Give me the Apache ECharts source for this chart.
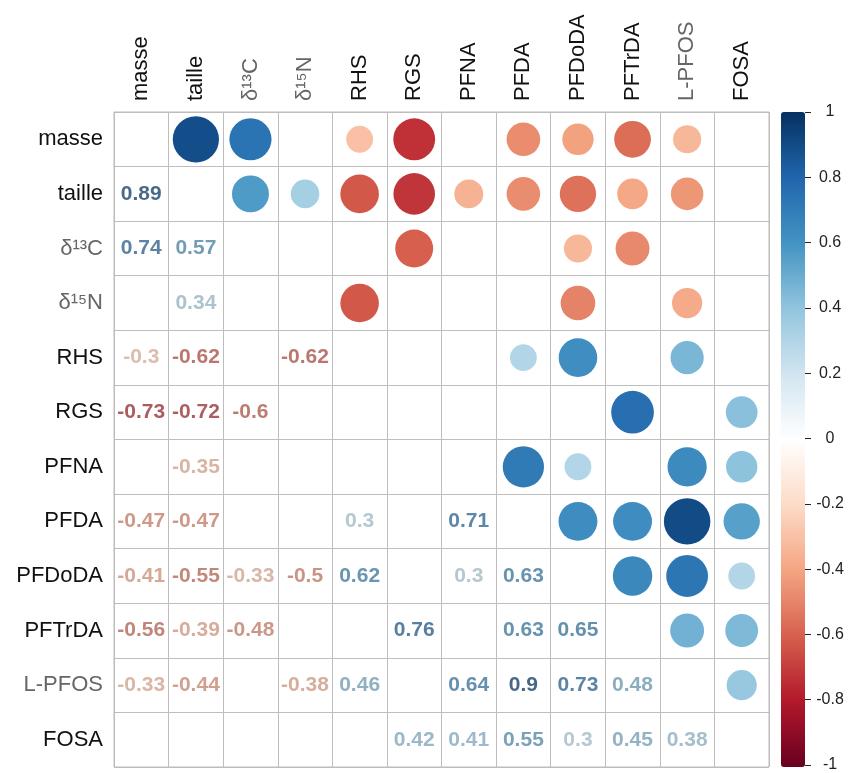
<!DOCTYPE html>
<html><head><meta charset="utf-8">
<script src="https://cdn.jsdelivr.net/npm/echarts@6/dist/echarts.min.js"></script>
<style>html,body{margin:0;padding:0;background:#fff}#c{width:852px;height:773px}</style>
</head><body><div id="c"></div>
<script>
// Variables (row/column order)
const variables = ['masse','taille','δ¹³C','δ¹⁵N','RHS','RGS','PFNA','PFDA','PFDoDA','PFTrDA','L-PFOS','FOSA'];
const grayLabels = ['δ¹³C','δ¹⁵N','L-PFOS'];

// Lower-triangle correlations (row i vs columns 0..i-1); null = not shown
const rowMasse  = [];
const rowTaille = [0.89];
const rowD13C   = [0.74, 0.57];
const rowD15N   = [null, 0.34, null];
const rowRHS    = [-0.3, -0.62, null, -0.62];
const rowRGS    = [-0.73, -0.72, -0.6, null, null];
const rowPFNA   = [null, -0.35, null, null, null, null];
const rowPFDA   = [-0.47, -0.47, null, null, 0.3, null, 0.71];
const rowPFDoDA = [-0.41, -0.55, -0.33, -0.5, 0.62, null, 0.3, 0.63];
const rowPFTrDA = [-0.56, -0.39, -0.48, null, null, 0.76, null, 0.63, 0.65];
const rowLPFOS  = [-0.33, -0.44, null, -0.38, 0.46, null, 0.64, 0.9, 0.73, 0.48];
const rowFOSA   = [null, null, null, null, null, 0.42, 0.41, 0.55, 0.3, 0.45, 0.38];

// Colour bar ticks
const colorbarTicks = [-1, -0.8, -0.6, -0.4, -0.2, 0, 0.2, 0.4, 0.6, 0.8, 1];

const lowerRows = [rowMasse,rowTaille,rowD13C,rowD15N,rowRHS,rowRGS,rowPFNA,rowPFDA,rowPFDoDA,rowPFTrDA,rowLPFOS,rowFOSA];
const palette = ['#67001F','#B2182B','#D6604D','#F4A582','#FDDBC7','#FFFFFF','#D1E5F0','#92C5DE','#4393C3','#2166AC','#053061'];

function hex2rgb(h){return [parseInt(h.substr(1,2),16),parseInt(h.substr(3,2),16),parseInt(h.substr(5,2),16)];}
function rgbOf(v){
  const t = (v + 1) / 2 * (palette.length - 1);
  const i = Math.min(palette.length - 2, Math.floor(t));
  const f = t - i;
  const a = hex2rgb(palette[i]), b = hex2rgb(palette[i+1]);
  return a.map((x,k)=>Math.round(x + (b[k]-x)*f));
}
function colorOf(v){ return 'rgb(' + rgbOf(v).join(',') + ')'; }
function textColorOf(v){
  const c = rgbOf(v);
  const g = 0.3*c[0] + 0.59*c[1] + 0.11*c[2];
  const m = c.map(x => Math.round((x*0.78 + g*0.22) * 0.88));
  return 'rgb(' + m.join(',') + ')';
}

const circleData = [];
const textData = [];
lowerRows.forEach((row, i) => {
  row.forEach((v, j) => {
    if (v === null) return;
    textData.push({ value: [variables[j], variables[i], v],
      label: { color: textColorOf(v) } });
    circleData.push({ value: [variables[i], variables[j], v],
      itemStyle: { color: colorOf(v) } });
  });
});

const FULL_D = 49;
const chart = echarts.init(document.getElementById('c'), null, {renderer:'canvas'});
const labelColor = (val) => grayLabels.indexOf(val) >= 0 ? '#666' : '#111';
const FONT = 'Liberation Sans, Arial, sans-serif';

chart.setOption({
  backgroundColor: '#fff',
  animation: false,
  textStyle: { fontFamily: FONT },
  grid: [
    { left: 114, top: 112, width: 655, height: 655, show: true, borderColor: '#bdbdbd', borderWidth: 1 },
    { left: 781, top: 112, width: 24, height: 655, show: false }
  ],
  xAxis: [
    { type: 'category', data: variables, position: 'top', gridIndex: 0,
      axisLine: { show: false }, axisTick: { show: false },
      splitLine: { show: true, interval: 0, lineStyle: { color: '#bdbdbd', width: 1 } },
      axisLabel: { rotate: -90, fontSize: 22, margin: 11, interval: 0, color: labelColor, fontFamily: FONT } },
    { type: 'category', data: ['a'], gridIndex: 1, show: false }
  ],
  yAxis: [
    { type: 'category', data: variables, inverse: true, gridIndex: 0,
      axisLine: { show: false }, axisTick: { show: false },
      splitLine: { show: true, interval: 0, lineStyle: { color: '#bdbdbd', width: 1 } },
      axisLabel: { fontSize: 22, margin: 11, interval: 0, color: labelColor, fontFamily: FONT } },
    { type: 'value', gridIndex: 1, min: -1, max: 1, interval: 0.2, position: 'right',
      axisLine: { show: false }, splitLine: { show: false },
      axisTick: { show: true, length: 6, lineStyle: { color: '#222' } },
      axisLabel: { fontSize: 16, margin: 25, align: 'center', color: '#222',
        formatter: (v) => { const r = Math.round(v*10)/10; return colorbarTicks.indexOf(r) >= 0 ? String(r) : ''; } } }
  ],
  visualMap: {
    type: 'continuous', min: -1, max: 1, dimension: 2, seriesIndex: 0,
    calculable: false, hoverLink: false, show: true,
    left: 781, top: 112, itemWidth: 24, itemHeight: 655, padding: 0,
    orient: 'vertical', text: null, showLabel: false,
    inRange: { color: palette }
  },
  series: [
    { type: 'scatter', xAxisIndex: 0, yAxisIndex: 0, data: circleData,
      symbol: 'circle',
      symbolSize: (val) => FULL_D * Math.sqrt(Math.abs(val[2])),
      itemStyle: { opacity: 1 }, z: 3 },
    { type: 'scatter', xAxisIndex: 0, yAxisIndex: 0, data: textData,
      symbolSize: 0,
      label: { show: true, position: 'inside', fontSize: 21, fontWeight: 'bold', fontFamily: FONT,
        formatter: (p) => String(p.value[2]) }, z: 4 }
  ]
});
</script>
</body></html>
